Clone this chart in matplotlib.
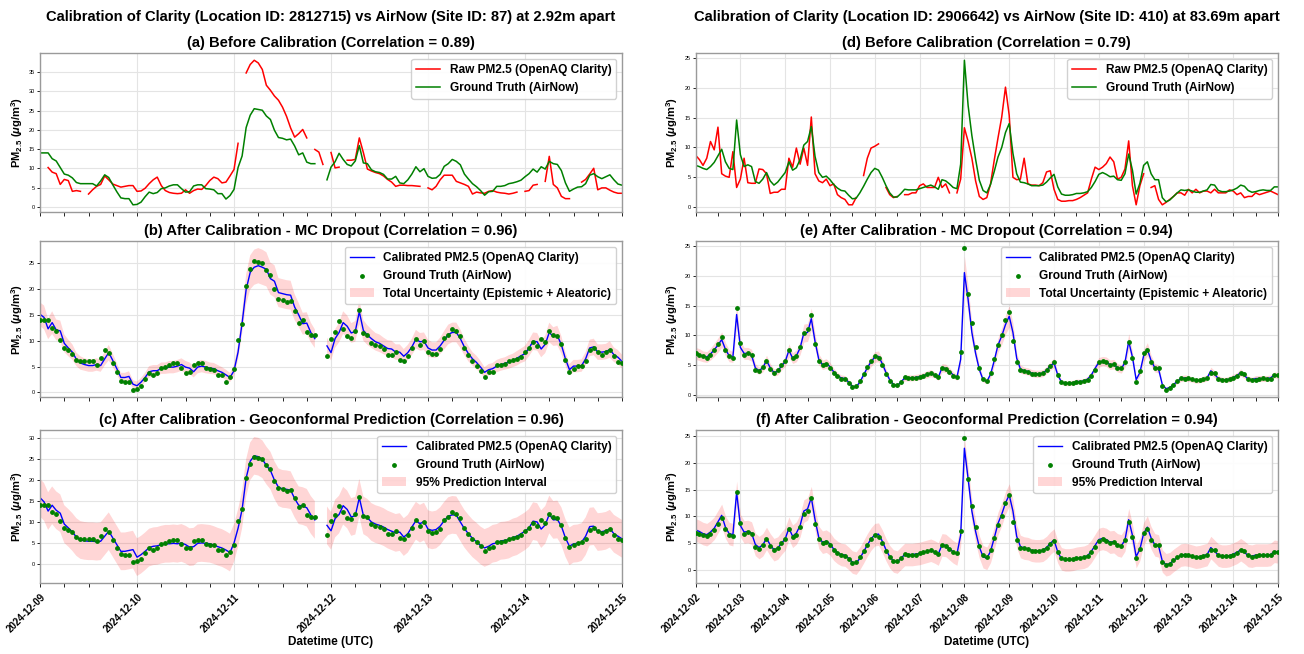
import numpy as np
import pandas as pd
import matplotlib
matplotlib.use('Agg')
import matplotlib.pyplot as plt
import matplotlib.dates as mdates
from matplotlib.ticker import MultipleLocator

nan = np.nan

plt.rcParams['font.family'] = ['Liberation Sans', 'DejaVu Sans']
plt.rcParams['mathtext.fontset'] = 'custom'
plt.rcParams['mathtext.rm'] = 'Liberation Sans:bold'
plt.rcParams['mathtext.it'] = 'Liberation Sans:italic:bold'
plt.rcParams['mathtext.bf'] = 'Liberation Sans:bold'

# ---------------- site 1 : Clarity 2812715 vs AirNow 87 (hourly) ----------------
left_title = 'Calibration of Clarity (Location ID: 2812715) vs AirNow (Site ID: 87) at 2.92m apart'
left_corr = ['0.89', '0.96', '0.96']
left_letters = ['a', 'b', 'c']

left_raw = [nan, nan, 10.2, 9.0, 8.6, 5.8, 7.1, 6.8, 4.0, 4.2,
            4.0, nan, 3.3, 4.4, 5.3, 5.8, 8.0, 7.0, 5.9, 5.5,
            5.1, 5.3, 5.5, 5.5, 4.0, 4.1, 4.8, 6.0, 7.0, 7.7,
            5.5, 4.2, 3.7, 3.5, 3.4, 3.5, 4.4, 3.5, 4.2, 4.6,
            4.5, 5.5, 6.8, 7.7, 7.3, 6.2, 6.4, 8.0, 9.7, 16.5,
            nan, 34.8, 37.0, 38.1, 37.4, 35.7, 31.6, 30.3, 28.8, 27.7,
            25.9, 23.5, 20.5, 18.1, 19.0, 20.1, 17.9, nan, 14.9, 14.2,
            11.0, nan, 14.1, 10.1, 10.3, nan, 12.1, 12.1, 12.3, 17.9,
            14.1, 9.8, 9.3, 8.9, 8.6, 8.0, 7.1, 6.4, 5.3, 5.6,
            5.6, 5.5, 5.5, 5.4, 5.3, nan, 4.9, 4.4, 5.3, 7.0,
            8.2, 8.2, 8.2, 6.6, 6.2, 5.8, 5.3, 3.3, 3.8, 3.6,
            3.5, 4.0, 4.2, 3.8, 3.6, 3.5, 3.3, 3.5, 3.8, nan,
            4.0, 4.2, 5.6, 5.8, nan, 6.6, 13.1, 5.8, 4.9, 2.7,
            2.1, 2.1, nan, nan, 6.4, 7.1, 8.5, 10.0, 4.4, 4.9,
            4.9, 4.3, 3.8, 3.5, 3.5]

left_gt = [14.0, 14.0, 14.0, 12.5, 11.9, 10.2, 8.5, 8.2, 7.5, 6.3,
           6.0, 6.0, 6.0, 6.0, 5.4, 6.7, 8.3, 7.6, 5.7, 3.9,
           2.3, 2.1, 2.1, 0.5, 0.6, 1.2, 2.6, 3.8, 3.4, 3.7,
           4.7, 4.9, 5.4, 5.7, 5.7, 4.7, 3.8, 3.9, 5.4, 5.7,
           5.7, 4.7, 4.6, 4.4, 3.4, 3.4, 2.0, 2.9, 4.5, 10.2,
           13.2, 20.6, 23.8, 25.5, 25.3, 25.1, 23.6, 22.7, 19.9, 18.0,
           17.8, 17.4, 17.6, 15.8, 13.5, 14.0, 11.6, 11.2, 11.2, nan,
           nan, 7.0, 10.3, 11.7, 13.9, 12.3, 11.0, 10.6, 11.9, 15.9,
           11.4, 11.2, 9.6, 9.1, 8.9, 8.4, 7.2, 7.2, 7.9, 6.2,
           6.0, 7.0, 8.5, 10.4, 9.1, 9.9, 7.9, 7.4, 7.5, 8.4,
           10.5, 11.2, 12.3, 11.8, 10.9, 8.5, 7.2, 6.0, 5.2, 4.2,
           3.0, 3.9, 4.0, 5.3, 5.3, 5.5, 6.0, 6.2, 6.5, 6.9,
           7.8, 8.6, 9.8, 9.0, 10.4, 9.8, 11.8, 11.2, 11.0, 9.4,
           6.2, 4.0, 4.6, 5.1, 5.2, 6.0, 8.2, 8.6, 7.8, 7.3,
           7.8, 8.3, 7.0, 5.9, 5.6]

left_mc = [15.1, 14.5, 12.3, 13.5, 12.1, 11.9, 9.5, 8.6, 7.8, 6.4,
           5.7, 5.4, 5.2, 5.2, 5.4, 5.2, 6.5, 7.7, 6.2, 4.6,
           2.9, 2.9, 3.1, 1.6, 1.3, 2.0, 2.9, 4.0, 4.2, 4.2,
           4.7, 4.7, 4.9, 4.9, 5.1, 5.4, 4.9, 4.7, 4.0, 4.9,
           5.1, 4.9, 4.7, 4.6, 4.2, 3.9, 3.4, 2.9, 4.2, 7.8,
           13.4, 19.9, 23.2, 24.2, 24.5, 24.2, 23.8, 22.0, 21.5, 19.3,
           19.1, 18.9, 18.8, 16.5, 15.0, 13.3, 13.4, 11.6, 10.4, nan,
           nan, 9.0, 7.7, 10.4, 11.6, 13.5, 12.8, 11.5, 11.8, 15.6,
           12.0, 11.1, 10.4, 9.8, 9.5, 9.0, 8.5, 8.4, 7.8, 7.8,
           7.0, 7.7, 8.8, 10.3, 9.8, 9.9, 8.6, 8.2, 8.2, 9.0,
           10.1, 11.2, 11.6, 11.6, 10.4, 8.8, 7.5, 6.5, 5.8, 4.9,
           3.9, 4.4, 4.6, 5.1, 5.4, 5.6, 5.9, 6.2, 6.6, 7.1,
           7.5, 8.6, 9.9, 9.8, 8.4, 9.3, 11.6, 10.8, 11.0, 9.2,
           6.5, 4.4, 5.1, 5.1, 5.2, 6.5, 8.6, 8.8, 7.8, 7.8,
           7.9, 8.3, 7.3, 6.8, 6.0]

left_mc_hw = [2.3, 2.3, 2.0, 2.2, 2.0, 2.0, 1.7, 1.6, 1.5, 1.3,
              1.3, 1.2, 1.2, 1.2, 1.2, 1.2, 1.3, 1.5, 1.3, 1.1,
              0.9, 0.9, 1.0, 0.8, 0.8, 0.8, 0.9, 1.1, 1.1, 1.1,
              1.1, 1.1, 1.2, 1.2, 1.2, 1.2, 1.2, 1.1, 1.1, 1.2,
              1.2, 1.2, 1.1, 1.1, 1.1, 1.0, 1.0, 0.9, 1.1, 1.5,
              2.1, 2.9, 3.3, 3.4, 3.4, 3.4, 3.3, 3.1, 3.1, 2.8,
              2.8, 2.8, 2.8, 2.5, 2.3, 2.1, 2.1, 1.9, 1.8, nan,
              nan, 1.6, 1.5, 1.8, 1.9, 2.2, 2.1, 1.9, 2.0, 2.4,
              2.0, 1.9, 1.8, 1.7, 1.7, 1.6, 1.6, 1.6, 1.5, 1.5,
              1.4, 1.5, 1.6, 1.8, 1.7, 1.7, 1.6, 1.5, 1.5, 1.6,
              1.8, 1.9, 1.9, 1.9, 1.8, 1.6, 1.5, 1.3, 1.3, 1.2,
              1.0, 1.1, 1.1, 1.2, 1.2, 1.2, 1.3, 1.3, 1.4, 1.4,
              1.5, 1.6, 1.7, 1.7, 1.6, 1.7, 1.9, 1.8, 1.9, 1.7,
              1.3, 1.1, 1.2, 1.2, 1.2, 1.3, 1.6, 1.6, 1.5, 1.5,
              1.5, 1.6, 1.4, 1.4, 1.3]

left_geo = [15.8, 14.8, 12.6, 14.0, 12.8, 12.1, 9.5, 8.6, 7.6, 6.4,
            5.7, 5.5, 5.4, 5.4, 5.3, 5.4, 6.6, 7.8, 6.2, 4.6,
            3.0, 3.0, 3.2, 3.4, 1.6, 2.2, 3.0, 3.9, 4.2, 4.3,
            4.6, 4.8, 4.8, 4.9, 4.8, 5.0, 4.6, 4.0, 4.1, 4.9,
            5.0, 4.9, 4.8, 4.5, 4.1, 3.8, 3.3, 2.7, 5.0, 8.5,
            13.0, 20.5, 24.5, 25.8, 25.6, 25.0, 23.5, 22.3, 20.0, 18.3,
            17.9, 17.8, 17.6, 15.6, 14.0, 13.8, 13.4, 11.7, 10.5, nan,
            nan, 9.2, 7.9, 10.8, 11.8, 13.9, 13.0, 11.2, 11.5, 15.8,
            11.6, 11.0, 10.0, 9.5, 9.2, 8.8, 8.2, 7.8, 7.4, 7.6,
            6.4, 7.2, 8.8, 10.3, 9.6, 10.1, 8.3, 8.0, 8.2, 9.0,
            10.3, 11.4, 11.7, 11.6, 10.0, 8.4, 7.2, 6.1, 5.3, 4.4,
            3.8, 4.2, 4.8, 5.0, 5.5, 5.6, 5.8, 6.3, 6.6, 7.2,
            7.8, 8.6, 10.2, 10.0, 8.3, 9.3, 11.8, 10.5, 10.6, 9.0,
            6.2, 4.2, 4.8, 4.9, 5.2, 6.6, 8.9, 9.0, 7.6, 7.7,
            7.9, 8.4, 7.2, 6.6, 6.0]
left_geo_hw = 4.5

# ---------------- site 2 : Clarity 2906642 vs AirNow 410 (2-hourly) ----------------
right_title = 'Calibration of Clarity (Location ID: 2906642) vs AirNow (Site ID: 410) at 83.69m apart'
right_corr = ['0.79', '0.94', '0.94']
right_letters = ['d', 'e', 'f']

right_raw = [8.7, 8.0, 7.0, 8.2, 11.0, 9.6, 13.4, 5.6, 5.2, 5.0,
             9.3, 3.3, 4.7, 8.2, 4.1, 4.0, 4.0, 6.4, 6.3, 5.6,
             2.3, 2.5, 2.5, 3.0, 3.0, 8.2, 6.7, 9.9, 7.2, 9.9,
             7.0, 15.1, 5.6, 4.4, 4.1, 4.7, 3.6, 3.9, 2.1, 1.6,
             1.3, 0.4, 0.4, 1.6, nan, 5.3, 8.2, 9.9, 10.2, 10.6,
             nan, 3.3, 2.1, 1.6, 1.8, nan, 2.1, 2.1, 2.4, 2.4,
             3.6, 3.9, 3.3, 3.3, 3.3, 5.0, 3.3, 3.9, 2.4, nan,
             2.4, 4.7, 13.3, 11.0, 8.2, 4.4, 1.8, 1.3, 1.6, 3.9,
             7.9, 11.6, 15.1, 20.1, 15.4, 5.0, 4.6, 4.7, 8.2, 3.9,
             3.7, 3.7, 3.6, 4.1, 5.9, 6.1, 3.0, 1.3, 1.0, 1.0,
             1.1, 1.1, 1.3, 1.6, 2.0, 2.4, 4.7, 6.7, 6.3, 6.7,
             7.3, 8.4, 7.6, 4.7, 5.0, 6.4, 11.1, 3.6, 0.4, 3.6,
             5.6, nan, 3.3, 3.6, 1.3, 0.4, 0.8, 1.3, 1.8, 2.4,
             2.4, 2.0, 3.0, 2.4, 3.0, 2.4, 2.7, 2.7, 2.4, 3.0,
             2.4, 2.4, 2.4, 2.9, 2.7, 2.1, 2.4, 1.6, 1.8, 1.8,
             2.4, 2.1, 2.3, 2.5, 2.7, 2.4, 2.1]

right_gt = [7.0, 6.8, 6.5, 6.3, 6.8, 7.5, 8.6, 9.7, 7.6, 6.5,
            6.3, 14.6, 8.8, 6.8, 7.1, 6.8, 4.3, 4.0, 4.7, 5.8,
            4.4, 3.7, 4.2, 5.0, 5.8, 7.6, 6.2, 6.6, 8.0, 10.4,
            11.0, 13.5, 8.5, 5.8, 5.0, 5.2, 4.6, 3.8, 3.2, 2.8,
            2.7, 2.0, 1.4, 1.5, 2.4, 3.5, 4.7, 5.8, 6.5, 6.2,
            5.0, 3.6, 2.4, 1.7, 1.7, 2.3, 3.0, 2.9, 2.9, 2.9,
            3.1, 3.3, 3.5, 3.7, 3.4, 3.0, 4.6, 4.4, 3.9, 3.3,
            3.1, 7.2, 24.6, 17.0, 12.0, 8.0, 4.5, 2.8, 2.4, 3.8,
            6.0, 8.4, 10.0, 12.5, 14.0, 9.0, 5.6, 4.2, 4.1, 3.9,
            3.6, 3.6, 3.6, 3.7, 4.2, 4.9, 5.5, 3.4, 2.2, 2.0,
            2.0, 2.1, 2.3, 2.3, 2.4, 2.6, 3.3, 4.3, 5.5, 5.8,
            5.5, 5.1, 5.2, 4.6, 4.5, 5.6, 8.9, 6.2, 2.2, 4.0,
            7.0, 7.6, 5.6, 4.6, 4.6, 1.6, 0.9, 1.2, 1.8, 2.4,
            2.9, 2.8, 2.9, 2.7, 2.5, 2.5, 2.7, 2.9, 3.8, 3.7,
            2.8, 2.6, 2.6, 2.7, 2.9, 3.2, 3.7, 3.5, 2.8, 2.5,
            2.6, 2.8, 2.9, 2.8, 2.8, 3.4, 3.4]

right_mc = [7.0, 6.8, 6.5, 6.4, 6.9, 7.6, 8.4, 9.3, 7.7, 6.6,
            6.4, 13.5, 8.0, 7.0, 7.0, 6.7, 4.6, 4.1, 4.6, 5.8,
            4.6, 3.8, 4.0, 4.9, 5.6, 7.5, 6.2, 6.6, 7.9, 10.4,
            10.5, 12.8, 9.0, 6.0, 5.1, 5.3, 4.8, 3.9, 3.3, 2.9,
            2.8, 2.2, 1.5, 1.4, 2.2, 3.4, 4.6, 5.6, 6.4, 6.5,
            5.3, 3.8, 2.6, 1.8, 1.6, 2.2, 2.9, 2.9, 2.9, 3.0,
            3.1, 3.3, 3.5, 3.7, 3.4, 3.0, 4.6, 4.5, 4.0, 3.4,
            3.0, 6.0, 20.5, 16.0, 10.5, 7.0, 4.3, 2.6, 2.3, 3.5,
            5.8, 8.4, 9.9, 11.8, 13.2, 10.5, 6.2, 4.4, 4.1, 4.0,
            3.7, 3.6, 3.6, 3.7, 4.2, 4.9, 5.4, 3.4, 2.2, 2.0,
            2.0, 2.1, 2.3, 2.3, 2.4, 2.7, 3.4, 4.5, 5.5, 5.7,
            5.6, 5.1, 5.2, 4.6, 4.4, 5.5, 9.0, 6.4, 2.6, 3.8,
            6.6, 7.7, 5.8, 4.6, 4.4, 1.8, 1.1, 1.3, 1.8, 2.3,
            2.8, 2.9, 2.8, 2.6, 2.4, 2.5, 2.7, 2.9, 4.1, 3.5,
            2.8, 2.6, 2.6, 2.7, 3.0, 3.3, 3.8, 3.3, 2.7, 2.6,
            2.8, 2.8, 2.8, 2.8, 2.9, 3.4, 3.3]

right_mc_hw = [1.0, 1.0, 0.9, 0.9, 1.0, 1.1, 1.2, 1.3, 1.1, 1.0,
               0.9, 1.9, 1.1, 1.0, 1.0, 1.0, 0.7, 0.6, 0.7, 0.9,
               0.7, 0.6, 0.6, 0.7, 0.8, 1.1, 0.9, 1.0, 1.1, 1.5,
               1.5, 1.8, 1.3, 0.9, 0.8, 0.8, 0.7, 0.6, 0.5, 0.5,
               0.5, 0.4, 0.3, 0.3, 0.4, 0.5, 0.7, 0.8, 0.9, 0.9,
               0.8, 0.6, 0.4, 0.3, 0.3, 0.4, 0.5, 0.5, 0.5, 0.5,
               0.5, 0.5, 0.6, 0.6, 0.5, 0.5, 0.7, 0.7, 0.6, 0.5,
               0.5, 0.9, 2.8, 2.2, 1.5, 1.0, 0.7, 0.4, 0.4, 0.6,
               0.9, 1.2, 1.4, 1.6, 1.8, 1.5, 0.9, 0.7, 0.6, 0.6,
               0.6, 0.6, 0.6, 0.6, 0.6, 0.7, 0.8, 0.5, 0.4, 0.4,
               0.4, 0.4, 0.4, 0.4, 0.4, 0.5, 0.5, 0.7, 0.8, 0.8,
               0.8, 0.8, 0.8, 0.7, 0.7, 0.8, 1.3, 0.9, 0.4, 0.6,
               1.0, 1.1, 0.9, 0.7, 0.7, 0.3, 0.2, 0.3, 0.3, 0.4,
               0.5, 0.5, 0.5, 0.4, 0.4, 0.4, 0.5, 0.5, 0.6, 0.6,
               0.5, 0.4, 0.4, 0.5, 0.5, 0.5, 0.6, 0.5, 0.5, 0.4,
               0.5, 0.5, 0.5, 0.5, 0.5, 0.5, 0.5]

right_geo = [7.5, 7.2, 6.8, 6.6, 7.1, 7.8, 9.0, 10.2, 8.0, 6.8,
             6.6, 14.5, 8.3, 7.1, 7.2, 6.9, 4.8, 4.2, 4.7, 5.9,
             4.7, 3.8, 4.1, 5.0, 5.8, 7.8, 6.3, 6.9, 8.3, 11.0,
             11.4, 13.5, 9.4, 6.1, 5.2, 5.4, 4.9, 3.9, 3.3, 2.9,
             2.8, 2.2, 1.5, 1.3, 2.2, 3.4, 4.7, 5.8, 6.6, 6.7,
             5.4, 3.8, 2.5, 1.7, 1.5, 2.2, 2.9, 2.9, 2.9, 3.0,
             3.1, 3.3, 3.5, 3.7, 3.4, 3.0, 4.7, 4.6, 4.0, 3.4,
             3.0, 6.5, 22.7, 17.0, 11.0, 7.2, 4.3, 2.5, 2.2, 3.5,
             6.0, 8.7, 10.4, 12.5, 14.0, 11.0, 6.3, 4.4, 4.1, 4.0,
             3.7, 3.6, 3.6, 3.7, 4.2, 5.0, 5.6, 3.4, 2.1, 1.9,
             1.9, 2.0, 2.2, 2.3, 2.4, 2.7, 3.5, 4.6, 5.7, 5.9,
             5.7, 5.2, 5.3, 4.7, 4.5, 5.6, 9.4, 6.5, 2.5, 3.9,
             6.8, 8.0, 6.0, 4.7, 4.5, 1.7, 1.0, 1.2, 1.8, 2.3,
             2.8, 2.9, 2.8, 2.6, 2.4, 2.5, 2.7, 2.9, 4.2, 3.5,
             2.8, 2.6, 2.6, 2.7, 3.0, 3.3, 3.8, 3.3, 2.7, 2.6,
             2.8, 2.8, 2.8, 2.8, 2.9, 3.5, 3.4]
right_geo_hw = 2.1

left_time = pd.date_range('2024-12-09', periods=len(left_gt), freq='h')
right_time = pd.date_range('2024-12-02', periods=len(right_gt), freq='2h')

fig = plt.figure(figsize=(13.04, 6.54), dpi=100)

# axes rectangles (figure fractions)
rows = [(0.6758, 0.2431), (0.3930, 0.2385), (0.1086, 0.2339)]
ylab = r'PM$_{\mathbf{2.5}}$ ($\mu$g/m$^{\mathbf{3}}$)'
title_size = 10.6
legend_size = 8.6


def style(ax):
    ax.set_axisbelow(True)
    ax.grid(True, color='#e4e4e4', lw=0.8)
    for s in ax.spines.values():
        s.set_color('#9a9a9a')
        s.set_linewidth(1.0)
    ax.yaxis.set_major_locator(MultipleLocator(5))
    ax.tick_params(axis='y', labelsize=4, length=2, width=0.6, pad=1.5)
    ax.tick_params(axis='x', which='both', length=3, width=0.6)
    ax.set_ylabel(ylab, fontsize=8, fontweight='bold', labelpad=3)


def column(x0, w, t, raw, gt, mc, mc_hw, geo, geo_hw, title, corr, letters, minor_hours, t0, t1):
    mc = np.array(mc)
    mc_hw = np.array(mc_hw)
    geo = np.array(geo)
    axs = [fig.add_axes([x0, b, w, h]) for b, h in rows]

    ax = axs[0]
    ax.plot(t, raw, color='red', lw=1.1, label='Raw PM2.5 (OpenAQ Clarity)')
    ax.plot(t, gt, color='green', lw=1.1, label='Ground Truth (AirNow)')
    ax.set_title(f'({letters[0]}) Before Calibration (Correlation = {corr[0]})',
                 fontsize=title_size, fontweight='bold', pad=4)

    ax = axs[1]
    ax.fill_between(t, mc - mc_hw, mc + mc_hw, color='red', alpha=0.16, lw=0,
                    label='Total Uncertainty (Epistemic + Aleatoric)')
    ax.plot(t, mc, color='blue', lw=1.0, label='Calibrated PM2.5 (OpenAQ Clarity)')
    ax.scatter(t, gt, s=6, color='green', zorder=3, label='Ground Truth (AirNow)')
    ax.set_title(f'({letters[1]}) After Calibration - MC Dropout (Correlation = {corr[1]})',
                 fontsize=title_size, fontweight='bold', pad=4)

    ax = axs[2]
    ax.fill_between(t, geo - geo_hw, geo + geo_hw, color='red', alpha=0.16, lw=0,
                    label='95% Prediction Interval')
    ax.plot(t, geo, color='blue', lw=1.0, label='Calibrated PM2.5 (OpenAQ Clarity)')
    ax.scatter(t, gt, s=6, color='green', zorder=3, label='Ground Truth (AirNow)')
    ax.set_title(f'({letters[2]}) After Calibration - Geoconformal Prediction (Correlation = {corr[2]})',
                 fontsize=title_size, fontweight='bold', pad=4)

    for i, ax in enumerate(axs):
        style(ax)
        ax.set_xlim(pd.Timestamp(t0), pd.Timestamp(t1))
        ax.xaxis.set_major_locator(mdates.DayLocator())
        ax.xaxis.set_minor_locator(mdates.HourLocator(byhour=minor_hours))
        ax.xaxis.set_major_formatter(mdates.DateFormatter('%Y-%m-%d'))
        handles, labels = ax.get_legend_handles_labels()
        if i > 0:
            handles = [handles[1], handles[2], handles[0]]
        ax.legend(handles, [h.get_label() for h in handles], loc='upper right',
                  prop={'weight': 'bold', 'size': legend_size}, framealpha=0.9,
                  edgecolor='#cccccc', scatterpoints=1, handlelength=2.0)
        if i < 2:
            ax.tick_params(labelbottom=False)
        else:
            for lab in ax.get_xticklabels():
                lab.set_rotation(45)
                lab.set_ha('right')
                lab.set_rotation_mode('anchor')
                lab.set_fontweight('bold')
                lab.set_fontsize(7.0)
            ax.set_xlabel('Datetime (UTC)', fontsize=8.5, fontweight='bold', labelpad=1)

    fig.text(x0 + w / 2, 0.974, title, ha='center', va='center',
             fontsize=title_size, fontweight='bold')


column(0.0307, 0.4463, left_time, left_raw, left_gt, left_mc, left_mc_hw, left_geo, left_geo_hw,
       left_title, left_corr, left_letters, [0, 6, 12, 18], '2024-12-09', '2024-12-15')
column(0.5334, 0.4467, right_time, right_raw, right_gt, right_mc, right_mc_hw, right_geo, right_geo_hw,
       right_title, right_corr, right_letters, [0, 12], '2024-12-02', '2024-12-15')

fig.savefig('out.png', dpi=100)
